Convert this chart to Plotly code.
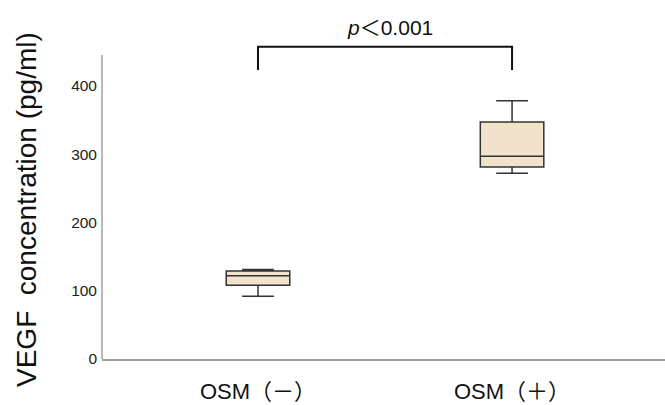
import plotly.graph_objects as go

categories = ["OSM（－）", "OSM（＋）"]
lower_whisker = [92, 272]
q1 = [108, 281]
median = [122, 297]
q3 = [129, 347]
upper_whisker = [131, 378]
y_ticks = [0, 100, 200, 300, 400]
p_text = "<i>p</i>＜0.001"

xpos = [0, 1]
fig = go.Figure()
fig.add_trace(go.Box(
    x=xpos, q1=q1, median=median, q3=q3,
    lowerfence=lower_whisker, upperfence=upper_whisker,
    width=0.25, whiskerwidth=0.5,
    fillcolor="#F1E3CB", line=dict(color="#333333", width=1.5),
    boxpoints=False, showlegend=False, hoverinfo="skip",
))

PX_PER_UNIT = 0.683
ytop = 359 / PX_PER_UNIT

fig.update_layout(
    width=665, height=405,
    margin=dict(l=102, r=0, t=0, b=46),
    plot_bgcolor="white", paper_bgcolor="white",
    font=dict(family="Liberation Sans, Arial, Noto Sans CJK JP", color="#111111"),
    xaxis=dict(range=[-0.614, 1.602], tickvals=xpos, ticktext=categories,
               showgrid=False, zeroline=False, showline=True,
               linecolor="#a0a0a0", linewidth=1.5, ticks="",
               ticklabelstandoff=12,
               tickfont=dict(size=22, color="#111111")),
    yaxis=dict(range=[0, ytop], tickvals=y_ticks, showgrid=False,
               zeroline=False, showline=False, ticks="",
               ticklabelstandoff=4,
               tickfont=dict(size=15.5, color="#222222")),
)

# y axis line (stops below the top)
fig.add_shape(type="line", xref="paper", yref="y", x0=0, x1=0, y0=0, y1=445,
              line=dict(color="#a0a0a0", width=1.5))

# significance bracket
fig.add_shape(type="path", xref="x", yref="y",
              path=f"M {xpos[0]} 423 L {xpos[0]} 457 L {xpos[1]} 457 L {xpos[1]} 423",
              line=dict(color="#111111", width=2))

fig.add_annotation(x=0.52, y=485, xref="x", yref="y", text=p_text, showarrow=False,
                   font=dict(size=21, color="#111111"), xanchor="center", yanchor="middle")

fig.add_annotation(x=-76/563, y=(359-210)/359, xref="paper", yref="paper",
                   text="VEGF  concentration (pg/ml)", textangle=-90, showarrow=False,
                   font=dict(size=28, color="#111111"), xanchor="center", yanchor="middle")

fig.write_html("out.html")
